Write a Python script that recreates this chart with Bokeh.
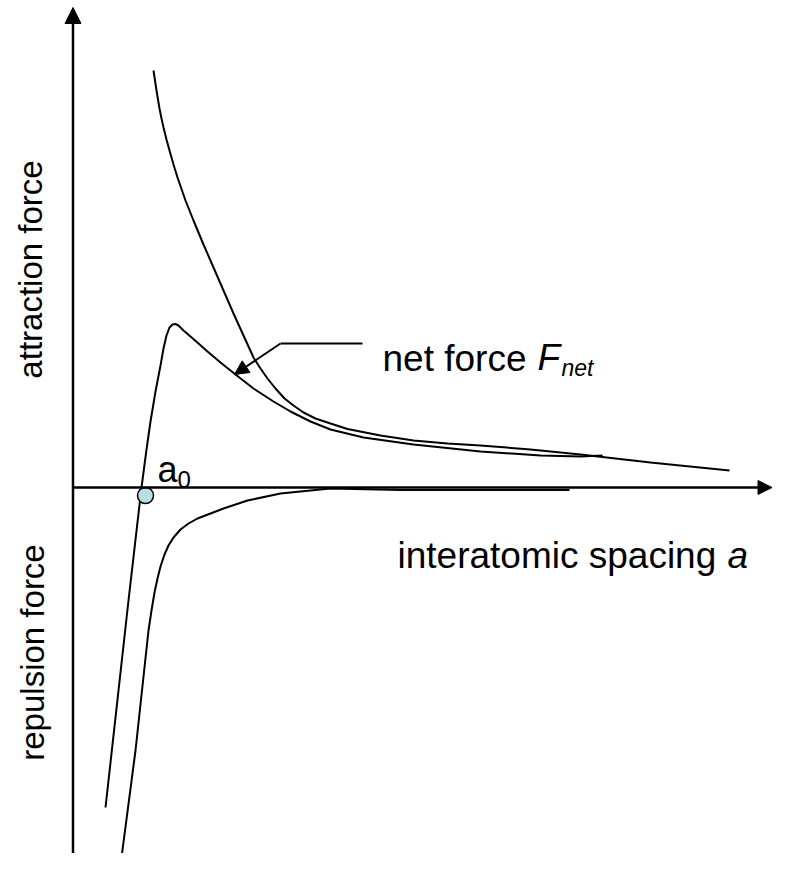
from bokeh.plotting import figure
from bokeh.models import Arrow, NormalHead, Range1d
from bokeh.core.properties import value
from bokeh.embed import file_html
from bokeh.resources import INLINE
import math

# ---- data (x = interatomic spacing, y = force) ----
net_x = [0.325, 0.555, 0.685, 0.735, 0.775, 0.825, 0.875, 0.905, 0.935, 0.965,
         0.995, 1.025, 1.055, 1.105, 1.175, 1.255, 1.345, 1.475, 1.625, 1.805,
         2.005, 2.175, 2.375, 2.575, 2.905, 3.405, 4.075, 4.675, 5.075, 5.295]
net_y = [-3.20, -1.13, 0.00, 0.38, 0.66, 0.96, 1.22, 1.39, 1.52, 1.60,
         1.63, 1.635, 1.62, 1.57, 1.51, 1.44, 1.36, 1.25, 1.13, 0.99,
         0.86, 0.76, 0.66, 0.58, 0.50, 0.43, 0.36, 0.32, 0.31, 0.32]

attr_x = [0.805, 0.820, 0.835, 0.850, 0.865, 0.885, 0.905, 0.935, 0.965, 1.005,
          1.045, 1.125, 1.205, 1.305, 1.405, 1.505, 1.605, 1.705, 1.805, 1.875,
          1.945, 2.025, 2.115, 2.205, 2.305, 2.425, 2.575, 2.745, 3.075, 3.405,
          3.745, 4.075, 4.575, 5.075, 5.775, 6.565]
attr_y = [4.17, 4.07, 3.97, 3.88, 3.79, 3.69, 3.60, 3.48, 3.37, 3.23,
          3.10, 2.87, 2.67, 2.43, 2.20, 1.97, 1.74, 1.52, 1.30, 1.19,
          1.09, 0.99, 0.89, 0.82, 0.75, 0.69, 0.64, 0.585, 0.52, 0.47,
          0.44, 0.42, 0.38, 0.33, 0.25, 0.17]

rep_x = [0.485, 0.625, 0.755, 0.785, 0.815, 0.845, 0.875, 0.915, 0.955, 1.005,
         1.075, 1.155, 1.245, 1.375, 1.505, 1.745, 2.075, 2.575, 3.275, 4.965]
rep_y = [-3.70, -2.63, -1.43, -1.23, -1.05, -0.91, -0.79, -0.67, -0.58, -0.50,
         -0.42, -0.36, -0.31, -0.26, -0.21, -0.13, -0.06, -0.01, -0.025, -0.025]

a0_x = [0.725]
a0_y = [-0.08]

pointer_x = [2.895, 2.075]
pointer_y = [1.44, 1.44]
pointer_tip = (1.615, 1.13)

x_min, x_max = -0.725, 7.005
y_min, y_max = -3.66, 4.87

FONT = value("Liberation Sans")

p = figure(width=773, height=853, x_range=Range1d(x_min, x_max),
           y_range=Range1d(y_min, y_max), output_backend="svg",
           toolbar_location=None, min_border=0,
           x_axis_type=None, y_axis_type=None)
p.grid.visible = False
p.outline_line_color = None
p.background_fill_color = "white"
p.border_fill_color = "white"

# axes with arrow heads
p.add_layout(Arrow(x_start=0, y_start=-3.8, x_end=0, y_end=4.80,
                   line_width=2.5, line_color="black",
                   end=NormalHead(size=16, fill_color="black", line_color="black")))
p.add_layout(Arrow(x_start=0, y_start=0, x_end=6.99, y_end=0,
                   line_width=2.5, line_color="black",
                   end=NormalHead(size=14, fill_color="black", line_color="black")))

# curves
p.line(attr_x, attr_y, line_width=2, line_color="black")
p.line(net_x, net_y, line_width=2, line_color="black")
p.line(rep_x, rep_y, line_width=2, line_color="black")

# a0 marker
p.scatter(a0_x, a0_y, size=16, marker="circle", fill_color="#b7dfe2",
          line_color="black", line_width=1.5)

# pointer to net force
p.line(pointer_x, pointer_y, line_width=2, line_color="black")
p.add_layout(Arrow(x_start=pointer_x[1], y_start=pointer_y[1],
                   x_end=pointer_tip[0], y_end=pointer_tip[1],
                   line_width=2, line_color="black",
                   end=NormalHead(size=14, fill_color="black", line_color="black")))

# labels
p.text(x=[-0.425], y=[2.18], text=["attraction force"], angle=math.pi / 2,
       text_font=FONT, text_font_size="33px", text_align="center",
       text_baseline="middle", text_color="black")
p.text(x=[-0.405], y=[-1.65], text=["repulsion force"], angle=math.pi / 2,
       text_font=FONT, text_font_size="33px", text_align="center",
       text_baseline="middle", text_color="black")

p.text(x=[3.095], y=[1.29], text=["net force"], text_font=FONT,
       text_font_size="37px", text_align="left", text_baseline="alphabetic")
p.text(x=[4.645], y=[1.30], text=["F"], text_font=FONT, text_font_style="italic",
       text_font_size="37px", text_align="left", text_baseline="alphabetic")
p.text(x=[4.885], y=[1.20], text=["net"], text_font=FONT, text_font_style="italic",
       text_font_size="23px", text_align="left", text_baseline="alphabetic")

p.text(x=[3.245], y=[-0.68], text=["interatomic spacing"], text_font=FONT,
       text_font_size="37px", text_align="left", text_baseline="alphabetic")
p.text(x=[6.545], y=[-0.68], text=["a"], text_font=FONT, text_font_style="italic",
       text_font_size="37px", text_align="left", text_baseline="alphabetic")

p.text(x=[0.845], y=[0.18], text=["a"], text_font=FONT,
       text_font_size="36px", text_align="left", text_baseline="alphabetic")
p.text(x=[1.045], y=[0.08], text=["0"], text_font=FONT,
       text_font_size="24px", text_align="left", text_baseline="alphabetic")

open("out.html", "w").write(file_html(p, INLINE))
